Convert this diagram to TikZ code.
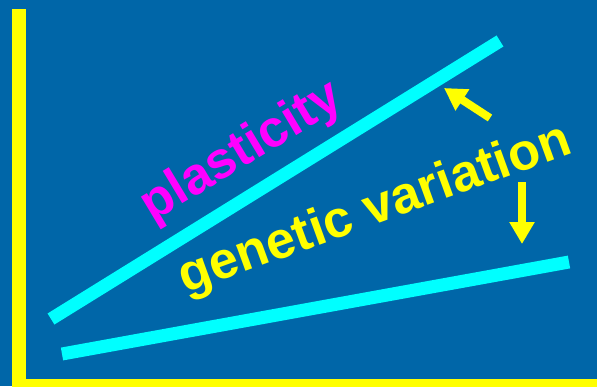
\documentclass[tikz,border=0pt]{standalone}
\usepackage{fontspec}
\setmainfont{Liberation Sans}
\definecolor{SLDblue}{HTML}{0066A8}
\definecolor{SLDyellow}{HTML}{FFFF00}
\definecolor{SLDcyan}{HTML}{00FFFF}
\definecolor{SLDmagenta}{HTML}{FF00FF}
\usetikzlibrary{arrows.meta}

\begin{document}
\begin{tikzpicture}[x=1pt, y=-1pt,
      bigword/.style={font=\fontsize{52}{60}\selectfont\bfseries, inner sep=0pt, anchor=base},
      trend/.style={SLDcyan, line width=13pt},
      moveline/.style={SLDyellow, line width=8pt, -{Triangle[length=22pt, width=24pt]}}]
   % Background
   \fill[SLDblue] (0,0) rectangle (597,386);
   \useasboundingbox (0,0) rectangle (597,386);
   % Axes
   \draw[SLDyellow, line width=14pt] (19,9) -- (19,393);
   \draw[SLDyellow, line width=14pt] (12,386) -- (597,386);
   % Plasticity line (steep) and genetic variation line (flat)
   \coordinate (p0) at (51,319);
   \coordinate (p1) at (500,41);
   \coordinate (g0) at (62,354);
   \coordinate (g1) at (569,262);
   \draw[trend] (p0) -- (p1);
   \draw[trend] (g0) -- (g1);
   % Labels
   \node[bigword, SLDmagenta, rotate=31] (plast) at (249,164) {plasticity};
   \node[bigword, SLDyellow, rotate=20] (genvar) at (380,223) {genetic variation};
   % Arrows: slope goes up, and down
   \coordinate (a0) at (490,118);
   \coordinate (a1) at (444,88);
   \coordinate (b0) at (522,182);
   \coordinate (b1) at (522,244);
   \draw[moveline] (a0) -- (a1);
   \draw[moveline] (b0) -- (b1);
\end{tikzpicture}
\end{document}
